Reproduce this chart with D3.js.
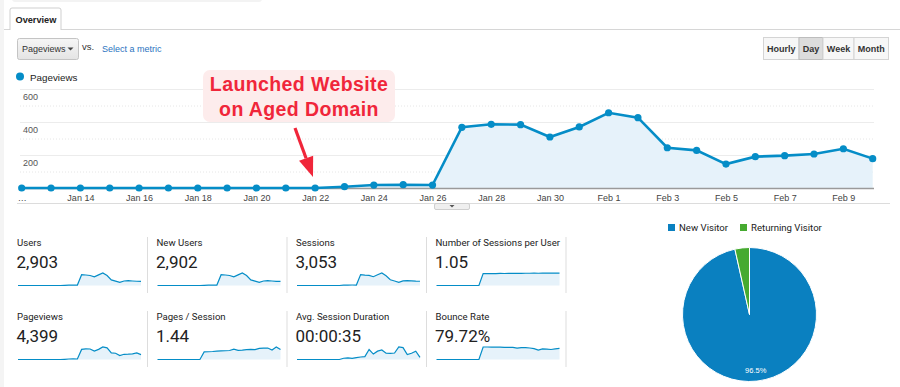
<!DOCTYPE html>
<html>
<head>
<meta charset="utf-8">
<title>Overview</title>
<script src="https://cdn.jsdelivr.net/npm/d3@7"></script>
<style>
body { margin: 0; background: #fff; }
text { font-family: "Liberation Sans", Arial, sans-serif; }
.card text { font-family: Roboto, "Liberation Sans", sans-serif; }
</style>
</head>
<body>
<script>
// daily values, Jan 12 .. Feb 10
var startDay = new Date(2019, 0, 12);
var pageviews = [0,0,0,0,0,0,0,0,0,0,0, 8,18,20,18, 368,386,384,309,370,456,426, 244,228,145,190,196,206,238,178];
var users = [0,0,0,0,0,0,0,0,0,0,0, 4,10,12,11, 267,260,248,217,264,310,248, 140,108,78,112,121,112,105,102];
var newUsers = [0,0,0,0,0,0,0,0,0,0,0, 4,10,12,11, 266,259,247,216,263,309,247, 139,107,77,111,120,111,104,101];
var sessions = [0,0,0,0,0,0,0,0,0,0,0, 8,12,13,12, 285,272,262,228,280,325,252, 150,118,82,118,128,122,112,110];
var sessionsPerUser = [0,0,0,0,0,0,0,0,0,0,0, 1.0,1.0,1.0,1.0,1.02,1.01,1.02,1.02,1.03,1.02,1.03,1.03,1.04,1.03,1.04,1.05,1.04,1.05,1.04];
var pagesPerSession = [0,0,0,0,0,0,0,0,0,0,0, 1.0,1.02,1.05,1.1,1.12,1.15,1.18,1.35,1.2,1.22,1.3,1.32,1.3,1.45,1.5,1.5,1.25,1.64,1.3];
var avgDuration = [0,0,0,0,0,0,0,0,0,0,0, 6,8,5,9,12,14,48,26,40,46,30,29,31,60,57,24,30,40,10];
var bounceRate = [0,0,0,0,0,0,0,0,0,0,0, 90,90,89,89,89,88,88,87,82,86,85,83,78,68,76,75,72,76,80];
var yTicks = [200, 400, 600];
var yMinor = [100, 300, 500];

var cards = [
  {label: "Users", value: "2,903", data: users},
  {label: "New Users", value: "2,902", data: newUsers},
  {label: "Sessions", value: "3,053", data: sessions},
  {label: "Number of Sessions per User", value: "1.05", data: sessionsPerUser},
  {label: "Pageviews", value: "4,399", data: pageviews},
  {label: "Pages / Session", value: "1.44", data: pagesPerSession},
  {label: "Avg. Session Duration", value: "00:00:35", data: avgDuration},
  {label: "Bounce Rate", value: "79.72%", data: bounceRate}
];

var visitorTypes = ["New Visitor", "Returning Visitor"];
var visitorShare = [96.5, 3.5];
var pieColors = ["#0a80c0", "#46aa30"];

var blue = "#058dc7", areaFill = "#e6f2fa";

var svg = d3.select("body").append("svg").attr("width", 900).attr("height", 387);

var dates = pageviews.map(function(d, i) { return d3.timeDay.offset(startDay, i); });

// ---- header: tab, metric picker, buttons ----
svg.append("rect").attr("x", 0).attr("y", 0).attr("width", 4).attr("height", 387).attr("fill", "#f4f4f4");
svg.append("rect").attr("x", 12).attr("y", -4).attr("width", 250).attr("height", 6).attr("rx", 3).attr("fill", "#f3f3f3");
svg.append("line").attr("x1", 4).attr("x2", 900).attr("y1", 29.5).attr("y2", 29.5).attr("stroke", "#d6d6d6");
svg.append("path").attr("d", "M10,30V10Q10,8 12,8H59Q61,8 61,10V30")
  .attr("fill", "#fff").attr("stroke", "#cfcfcf");
svg.append("text").attr("x", 15.5).attr("y", 22.5).attr("font-size", 9.2).attr("font-weight", "bold").attr("fill", "#222").text("Overview");

var grad = svg.append("defs").append("linearGradient").attr("id", "btn").attr("x1", 0).attr("x2", 0).attr("y1", 0).attr("y2", 1);
grad.append("stop").attr("offset", 0).attr("stop-color", "#f6f6f6");
grad.append("stop").attr("offset", 1).attr("stop-color", "#e4e4e4");

svg.append("rect").attr("x", 17.5).attr("y", 38.5).attr("width", 61).attr("height", 21).attr("rx", 2)
  .attr("fill", "url(#btn)").attr("stroke", "#c4c4c4");
svg.append("text").attr("x", 22).attr("y", 52).attr("font-size", 9).attr("fill", "#333").text("Pageviews");
svg.append("path").attr("d", "M67.5,47.5h6l-3,3z").attr("fill", "#444");
svg.append("text").attr("x", 82).attr("y", 50).attr("font-size", 9.5).attr("fill", "#333").text("vs.");
svg.append("text").attr("x", 102).attr("y", 52).attr("font-size", 9).attr("fill", "#2a73c0").text("Select a metric");

var buttons = [["Hourly", 763.5, 35.5], ["Day", 799, 24], ["Week", 823, 31], ["Month", 854, 34.5]];
svg.append("g").selectAll("rect").data(buttons).enter().append("rect")
  .attr("x", function(d) { return d[1]; }).attr("y", 37.5)
  .attr("width", function(d) { return d[2]; }).attr("height", 22)
  .attr("fill", function(d) { return d[0] === "Day" ? "#dcdcdc" : "#f7f7f7"; })
  .attr("stroke", function(d) { return d[0] === "Day" ? "#bdbdbd" : "#d4d4d4"; });
svg.append("g").selectAll("text").data(buttons).enter().append("text")
  .attr("x", function(d) { return d[1] + d[2] / 2; }).attr("y", 52)
  .attr("text-anchor", "middle").attr("font-size", 9).attr("font-weight", "bold").attr("fill", "#333")
  .text(function(d) { return d[0]; });

// ---- main line chart ----
svg.append("circle").attr("cx", 20).attr("cy", 76.5).attr("r", 4).attr("fill", blue);
svg.append("text").attr("x", 30).attr("y", 80.5).attr("font-size", 9.8).attr("fill", "#222").text("Pageviews");

var x = d3.scaleTime().domain([dates[0], dates[dates.length - 1]]).range([21.7, 872.7]);
var y = d3.scaleLinear().domain([0, 600]).range([188, 89]);

var grid = svg.append("g");
grid.selectAll("line.major").data(yTicks).enter().append("line").attr("class", "major")
  .attr("x1", 20).attr("x2", 874).attr("y1", function(d) { return y(d) + 0.5; }).attr("y2", function(d) { return y(d) + 0.5; })
  .attr("stroke", "#ececec");
grid.selectAll("line.minor").data(yMinor).enter().append("line").attr("class", "minor")
  .attr("x1", 20).attr("x2", 874).attr("y1", function(d) { return y(d) + 0.5; }).attr("y2", function(d) { return y(d) + 0.5; })
  .attr("stroke", "#e6e6e6").attr("stroke-dasharray", "1,2");
grid.selectAll("text").data(yTicks).enter().append("text")
  .attr("x", 23).attr("y", function(d) { return y(d) + 10.5; })
  .attr("font-size", 9).attr("fill", "#555").text(function(d) { return d; });

var area = d3.area().x(function(d, i) { return x(dates[i]); }).y0(y(0)).y1(function(d) { return y(d); });
var line = d3.line().x(function(d, i) { return x(dates[i]); }).y(function(d) { return y(d); });

svg.append("path").datum(pageviews).attr("d", area).attr("fill", areaFill);
svg.append("line").attr("x1", 20).attr("x2", 874).attr("y1", y(0) + 0.5).attr("y2", y(0) + 0.5)
  .attr("stroke", "#9a9a9a").attr("stroke-width", 1.5);
svg.append("path").datum(pageviews).attr("d", line).attr("fill", "none").attr("stroke", blue).attr("stroke-width", 2.6);
svg.append("g").selectAll("circle").data(pageviews).enter().append("circle")
  .attr("cx", function(d, i) { return x(dates[i]); }).attr("cy", function(d) { return y(d); })
  .attr("r", 3.6).attr("fill", blue);

var xAxis = d3.axisBottom(x).tickValues(dates.filter(function(d, i) { return i % 2 === 0; }))
  .tickSize(0).tickPadding(5)
  .tickFormat(function(d, i) { return i === 0 ? "\u2026" : d3.timeFormat("%b %-d")(d); });
var gx = svg.append("g").attr("transform", "translate(0," + (y(0) + 2) + ")").call(xAxis);
gx.select(".domain").remove();
gx.selectAll("text").attr("font-size", 9).attr("fill", "#444").attr("font-family", "Liberation Sans, Arial, sans-serif");

svg.append("line").attr("x1", 17).attr("x2", 890).attr("y1", 203.5).attr("y2", 203.5).attr("stroke", "#dcdcdc");
svg.append("rect").attr("x", 434.5).attr("y", 203.5).attr("width", 35).attr("height", 6).attr("rx", 1.5)
  .attr("fill", "#efefef").attr("stroke", "#cfcfcf");
svg.append("path").attr("d", "M449.5,205h5l-2.5,2.5z").attr("fill", "#555");

// ---- annotation ----
svg.append("rect").attr("x", 203).attr("y", 70).attr("width", 192).attr("height", 52).attr("rx", 7).attr("fill", "#fdecec");
svg.append("text").attr("x", 299).attr("y", 91).attr("text-anchor", "middle").attr("font-size", 19.5)
  .attr("letter-spacing", 0.4).attr("font-weight", "bold").attr("fill", "#f0263a").text("Launched Website");
svg.append("text").attr("x", 299).attr("y", 115.5).attr("text-anchor", "middle").attr("font-size", 19.5)
  .attr("letter-spacing", 0.4).attr("font-weight", "bold").attr("fill", "#f0263a").text("on Aged Domain");

var tail = [295, 128], tip = [313, 177];
var dx = tip[0] - tail[0], dy = tip[1] - tail[1], len = Math.sqrt(dx * dx + dy * dy);
var ux = dx / len, uy = dy / len, bx = tip[0] - 20 * ux, by = tip[1] - 20 * uy;
svg.append("line").attr("x1", tail[0]).attr("y1", tail[1]).attr("x2", bx).attr("y2", by)
  .attr("stroke", "#f0263a").attr("stroke-width", 3.2);
svg.append("path").attr("d", "M" + tip[0] + "," + tip[1] + "L" + (bx - 7.5 * uy) + "," + (by + 7.5 * ux) +
  "L" + (bx + 7.5 * uy) + "," + (by - 7.5 * ux) + "Z").attr("fill", "#f0263a");

// ---- scorecards ----
var colX = [17, 156.5, 296, 435.5];
var card = svg.selectAll("g.card").data(cards).enter().append("g").attr("class", "card")
  .attr("transform", function(d, i) { return "translate(" + colX[i % 4] + "," + (i < 4 ? 0 : 74) + ")"; });
card.append("text").attr("x", 0).attr("y", 245.5).attr("font-size", 9.6).attr("fill", "#222").text(function(d) { return d.label; });
card.append("text").attr("x", -0.5).attr("y", 268).attr("font-size", 17).attr("fill", "#222").text(function(d) { return d.value; });
card.append("line").attr("x1", 130.5).attr("x2", 130.5).attr("y1", 237).attr("y2", 293).attr("stroke", "#dddddd");

var sx = d3.scaleLinear().domain([0, pageviews.length - 1]).range([1, 124]);
card.each(function(d) {
  var sy = d3.scaleLinear().domain([0, d3.max(d.data)]).range([285.5, 273]);
  var g = d3.select(this);
  g.append("path").datum(d.data)
    .attr("d", d3.area().x(function(v, i) { return sx(i); }).y0(285.5).y1(function(v) { return sy(v); }))
    .attr("fill", areaFill);
  g.append("path").datum(d.data)
    .attr("d", d3.line().x(function(v, i) { return sx(i); }).y(function(v) { return sy(v); }))
    .attr("fill", "none").attr("stroke", blue).attr("stroke-width", 1.2);
});

// ---- pie ----
var legend = svg.append("g").attr("class", "card");
var legX = [668, 740];
legend.selectAll("rect").data(visitorTypes).enter().append("rect")
  .attr("x", function(d, i) { return legX[i]; }).attr("y", 224).attr("width", 7).attr("height", 7)
  .attr("fill", function(d, i) { return pieColors[i]; });
legend.selectAll("text").data(visitorTypes).enter().append("text")
  .attr("x", function(d, i) { return legX[i] + 11; }).attr("y", 231).attr("font-size", 9.6).attr("fill", "#222")
  .text(function(d) { return d; });

var pie = d3.pie().sort(null);
var r = 67;
var arc = d3.arc().innerRadius(0).outerRadius(r);
var labelArc = d3.arc().innerRadius(r * 0.68).outerRadius(r);
var pg = svg.append("g").attr("transform", "translate(749.5,314.5)");
var slices = pg.selectAll("path").data(pie(visitorShare)).enter();
slices.append("path").attr("d", arc).attr("fill", function(d, i) { return pieColors[i]; })
  .attr("stroke", "#fff").attr("stroke-width", 1);
pg.append("text").datum(pie(visitorShare)[0])
  .attr("transform", function(d) { return "translate(" + labelArc.centroid(d) + ")"; })
  .attr("text-anchor", "middle").attr("dy", 3).attr("font-size", 7.5).attr("fill", "#fff")
  .text(function(d) { return d.data + "%"; });
</script>
</body>
</html>
